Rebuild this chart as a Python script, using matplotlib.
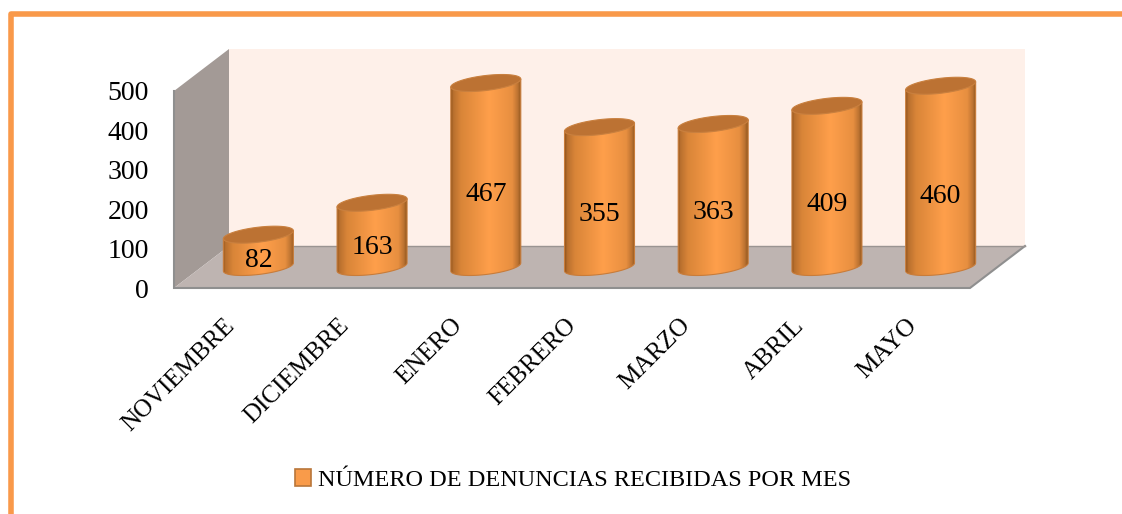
import numpy as np
import matplotlib
matplotlib.use('Agg')
import matplotlib.pyplot as plt
from matplotlib.colors import LinearSegmentedColormap
from matplotlib.lines import Line2D
from matplotlib.patches import Patch, Polygon
from matplotlib.transforms import Affine2D

meses = ['NOVIEMBRE', 'DICIEMBRE', 'ENERO', 'FEBRERO', 'MARZO', 'ABRIL', 'MAYO']
denuncias = [82, 163, 467, 355, 363, 409, 460]
yticks = [0, 100, 200, 300, 400, 500]
leyenda = 'NÚMERO DE DENUNCIAS RECIBIDAS POR MES'

W, H = 1122, 514
plt.rcParams['font.family'] = ['Liberation Serif', 'DejaVu Serif']

fig = plt.figure(figsize=(W / 100, H / 100), dpi=100, facecolor='white')
ax = fig.add_axes([174 / W, 1 - 288 / H, 796 / W, 197 / H])
ax.patch.set_visible(False)

# pixel sizes converted to data units
ux = 7 / 796
uy = 500 / 197
dx = 55 * ux
dy = 42 * uy
x0, x1 = -0.5, 6.5

# room
wall = Polygon([(x0 + dx, dy), (x1 + dx, dy), (x1 + dx, 500 + dy), (x0 + dx, 500 + dy)],
               fc='#FEF0E9', ec='none', clip_on=False, zorder=1)
side = Polygon([(x0, 0), (x0 + dx, dy), (x0 + dx, 500 + dy), (x0, 500)],
               fc='#A39A96', ec='none', clip_on=False, zorder=1)
floor = Polygon([(x0, 0), (x1, 0), (x1 + dx, dy), (x0 + dx, dy)],
                fc='#BEB4B1', ec='none', clip_on=False, zorder=1.1)
for p in (wall, side, floor):
    ax.add_patch(p)
ax.plot([x0, x0, x1, x1 + dx], [500, 0, 0, dy], color='#8F8F8F', lw=1.5,
        clip_on=False, zorder=1.2, solid_joinstyle='miter')
ax.plot([x0 + dx, x1 + dx], [dy, dy], color='#9A9492', lw=1, clip_on=False, zorder=1.2)

# cylinders
cmap = LinearSegmentedColormap.from_list('cil', [
    (0.0, '#96581F'), (0.03, '#B86F2E'), (0.14, '#D98538'), (0.55, '#FF9F4B'),
    (0.88, '#E78F40'), (0.96, '#BB7231'), (1.0, '#93591F')])
grad = np.linspace(0, 1, 128).reshape(1, -1)
half = 35 * ux
b = 7.5 * uy
s = 4 * uy
t = np.linspace(0, 2 * np.pi, 121)
front = np.linspace(np.pi, 2 * np.pi, 61)

for i, v in enumerate(denuncias):
    cx = i + dx / 2
    base = dy / 2
    top = base + v
    xs = cx + half * np.cos(front)
    low = base + b * np.sin(front) + s * np.cos(front)
    up = (top + s * np.cos(front))[::-1]
    body = Polygon(np.vstack([np.column_stack([xs, low]), np.column_stack([xs[::-1], up])]),
                   fc='none', ec='#C87C3A', lw=0.8, clip_on=False, zorder=3)
    ax.add_patch(body)
    im = ax.imshow(grad, extent=[cx - half, cx + half, base - 20 * uy, top + 20 * uy],
                   cmap=cmap, aspect='auto', zorder=2.5)
    # image is clipped to axes box otherwise, tall bars go above y=500
    im.set_clip_box(fig.bbox)
    im.set_clip_path(body)
    cap = Polygon(np.column_stack([cx + half * np.cos(t), top + b * np.sin(t) + s * np.cos(t)]),
                  fc='#BC7233', ec='#C9803F', lw=0.8, clip_on=False, zorder=3.2)
    ax.add_patch(cap)
    ax.text(cx, base + v * 0.435 - 8 * uy, str(v), ha='center', va='center',
            fontsize=20, color='black', zorder=4)

ax.set_xlim(x0, x1)
ax.set_ylim(0, 500)
ax.set_yticks(yticks)
ax.set_xticks(range(len(meses)))
ax.set_xticklabels(meses, rotation=45, ha='right', va='top', rotation_mode='anchor')
ax.tick_params(axis='y', length=0, pad=18, labelsize=20)
ax.tick_params(axis='x', length=0, pad=19, labelsize=18)
for lab in ax.get_xticklabels():
    lab.set_transform(lab.get_transform() + Affine2D().translate(-7, 0))
for sp in ax.spines.values():
    sp.set_visible(False)

fig.legend(handles=[Patch(fc='#F99B4A', ec='#B9763A', lw=1.2, label=leyenda)],
           loc='center', bbox_to_anchor=(573 / W, 1 - 480 / H), frameon=False,
           fontsize=17.5, handlelength=0.68, handleheight=0.68, handletextpad=0.3)

# page border
fig.add_artist(Line2D([10.5 / W, 10.5 / W, 1], [0, 1 - 13.5 / H, 1 - 13.5 / H],
                      color='#F9994A', lw=4, solid_joinstyle='round'))

fig.savefig('out.png', dpi=100)
